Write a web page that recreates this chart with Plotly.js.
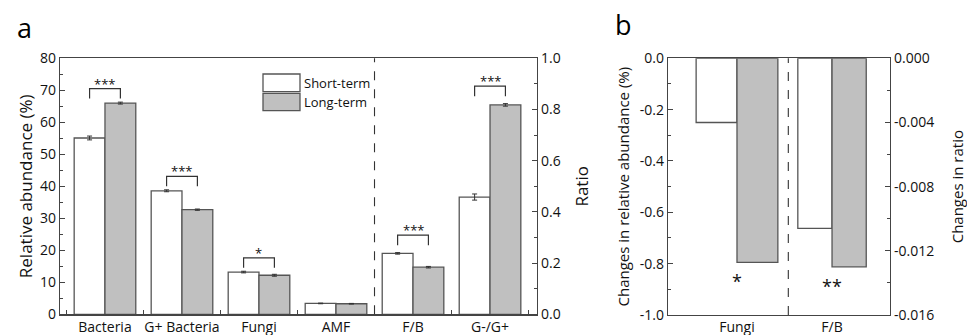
<!DOCTYPE html>
<html>
<head>
<meta charset="utf-8">
<script src="https://cdn.plot.ly/plotly-3.0.1.min.js"></script>
<style>html,body{margin:0;padding:0;background:#fff;} #chart{width:967px;height:335px;}</style>
</head>
<body>
<div id="chart"></div>
<script>
// ---------- DATA ----------
const abundCats = ['Bacteria', 'G+ Bacteria', 'Fungi', 'AMF'];
const ratioCats = ['F/B', 'G-/G+'];
const shortAbund = [55.1, 38.6, 13.2, 3.4];
const longAbund = [66.0, 32.7, 12.2, 3.3];
const shortAbundErr = [0.6, 0.3, 0.25, 0.1];
const longAbundErr = [0.3, 0.2, 0.3, 0.1];
const shortRatio = [0.238, 0.458];
const longRatio = [0.184, 0.818];
const shortRatioErr = [0.003, 0.012];
const longRatioErr = [0.003, 0.005];
const abundSig = ['***', '***', '*', ''];
const ratioSig = ['***', '***'];
const legendNames = ['Short-term', 'Long-term'];

const changeCats = ['Fungi', 'F/B'];
const shortChangeFungi = [-0.25];
const longChangeFungi = [-0.795];
const shortChangeFB = [-0.0106];
const longChangeFB = [-0.0130];
const changeSig = ['*', '**'];

// ---------- STYLE ----------
const FONT = 'Open Sans, Liberation Sans, Arial, sans-serif';
const TXT = '#111';
const AX = '#444';
const EDGE = '#555';
const GREY = '#c0c0c0';
const W = 967, H = 335;
const px = v => v / W, py = v => 1 - v / H;

const nAb = abundCats.length;
const abIdx = abundCats.map((_, i) => i);
const raIdx = ratioCats.map((_, i) => i + nAb);
const allCats = abundCats.concat(ratioCats);
const allIdx = allCats.map((_, i) => i);

function barTrace(x, y, err, fill, offset, width, xa, ya) {
  const t = {
    type: 'bar', x: x, y: y, xaxis: xa, yaxis: ya,
    width: width, offset: offset,
    marker: {color: fill, line: {color: EDGE, width: 1.3}},
    showlegend: false, hoverinfo: 'skip'
  };
  if (err) t.error_y = {type: 'data', array: err, visible: true, color: '#333', thickness: 1, width: 2.5};
  return t;
}

// brackets built from data
function bracket(xIdx, s, l, se, le, sig, pad, leg) {
  const xs = [], ys = [], ann = [];
  xIdx.forEach((xi, i) => {
    if (!sig[i]) return;
    const top = Math.max(s[i] + se[i], l[i] + le[i]) + pad;
    xs.push(xi - 0.2, xi - 0.2, xi + 0.2, xi + 0.2, null);
    ys.push(top - leg, top, top, top - leg, null);
    ann.push({x: xi, y: top, text: sig[i]});
  });
  return {xs, ys, ann};
}

const bA = bracket(abIdx, shortAbund, longAbund, shortAbundErr, longAbundErr, abundSig, 4.2, 3.1);
const bR = bracket(raIdx, shortRatio, longRatio, shortRatioErr, longRatioErr, ratioSig, 0.068, 0.039);

const data = [
  barTrace(abIdx, shortAbund, shortAbundErr, '#ffffff', -0.4, 0.4, 'x', 'y'),
  barTrace(abIdx, longAbund, longAbundErr, GREY, 0, 0.4, 'x', 'y'),
  barTrace(raIdx, shortRatio, shortRatioErr, '#ffffff', -0.4, 0.4, 'x', 'y2'),
  barTrace(raIdx, longRatio, longRatioErr, GREY, 0, 0.4, 'x', 'y2'),
  {type: 'scatter', mode: 'lines', x: bA.xs, y: bA.ys, xaxis: 'x', yaxis: 'y',
   line: {color: '#333', width: 1.2}, showlegend: false, hoverinfo: 'skip', connectgaps: false},
  {type: 'scatter', mode: 'lines', x: bR.xs, y: bR.ys, xaxis: 'x', yaxis: 'y2',
   line: {color: '#333', width: 1.2}, showlegend: false, hoverinfo: 'skip', connectgaps: false},
  barTrace([0], shortChangeFungi, null, '#ffffff', -0.43, 0.43, 'x2', 'y3'),
  barTrace([0], longChangeFungi, null, GREY, 0, 0.43, 'x2', 'y3'),
  barTrace([1], shortChangeFB, null, '#ffffff', -0.36, 0.36, 'x2', 'y4'),
  barTrace([1], longChangeFB, null, GREY, 0, 0.36, 'x2', 'y4')
];

const annotations = [];
bA.ann.forEach(a => annotations.push({xref: 'x', yref: 'y', x: a.x, y: a.y, text: a.text, showarrow: false,
  yanchor: 'bottom', yshift: -6, font: {family: FONT, size: 13, color: TXT}}));
bR.ann.forEach(a => annotations.push({xref: 'x', yref: 'y2', x: a.x, y: a.y, text: a.text, showarrow: false,
  yanchor: 'bottom', yshift: -6, font: {family: FONT, size: 13, color: TXT}}));
// panel b stars below the long-term bars
annotations.push({xref: 'x2', yref: 'y3', x: 0, y: longChangeFungi[0], text: changeSig[0], showarrow: false,
  yanchor: 'top', yshift: -5, font: {family: FONT, size: 18, color: TXT}});
annotations.push({xref: 'x2', yref: 'y4', x: 1, y: longChangeFB[0], text: changeSig[1], showarrow: false,
  yanchor: 'top', yshift: -5, font: {family: FONT, size: 18, color: TXT}});
// panel labels
annotations.push({xref: 'paper', yref: 'paper', x: px(15), y: py(27), text: 'a', showarrow: false,
  xanchor: 'left', yanchor: 'middle', font: {family: FONT, size: 27, color: '#000'}});
annotations.push({xref: 'paper', yref: 'paper', x: px(613), y: py(25), text: 'b', showarrow: false,
  xanchor: 'left', yanchor: 'middle', font: {family: FONT, size: 27, color: '#000'}});
// legend text
annotations.push({xref: 'paper', yref: 'paper', x: px(302), y: py(83), text: legendNames[0], showarrow: false,
  xanchor: 'left', yanchor: 'middle', font: {family: FONT, size: 13, color: TXT}});
annotations.push({xref: 'paper', yref: 'paper', x: px(302), y: py(102), text: legendNames[1], showarrow: false,
  xanchor: 'left', yanchor: 'middle', font: {family: FONT, size: 13, color: TXT}});

const shapes = [
  {type: 'line', xref: 'x', yref: 'y domain', x0: nAb - 0.5, x1: nAb - 0.5, y0: 0, y1: 1,
   line: {color: '#333', width: 1.1, dash: 'dash'}},
  {type: 'line', xref: 'x2', yref: 'y3 domain', x0: 0.54, x1: 0.54, y0: 0, y1: 1,
   line: {color: '#333', width: 1.1, dash: 'dash'}},
  {type: 'rect', xref: 'paper', yref: 'paper', x0: px(263), x1: px(300), y0: py(74), y1: py(91.7),
   fillcolor: '#ffffff', line: {color: EDGE, width: 1.3}},
  {type: 'rect', xref: 'paper', yref: 'paper', x0: px(263), x1: px(300), y0: py(93.3), y1: py(110.7),
   fillcolor: GREY, line: {color: EDGE, width: 1.3}}
];

const tickFont = {family: FONT, size: 14, color: TXT};
const baseAxis = {showgrid: false, zeroline: false, showline: true, linecolor: AX, linewidth: 1.3,
  tickfont: tickFont, tickcolor: AX, fixedrange: true};

const lTicks = [0, -0.2, -0.4, -0.6, -0.8, -1.0];
const rTicks = [0, -0.004, -0.008, -0.012, -0.016];

const layout = {
  width: W, height: H,
  margin: {l: 0, r: 0, t: 0, b: 0},
  paper_bgcolor: '#fff', plot_bgcolor: '#fff',
  showlegend: false, barmode: 'overlay',
  font: {family: FONT, color: TXT},
  xaxis: Object.assign({}, baseAxis, {
    domain: [px(60), px(537)], range: [-0.584, allCats.length - 0.39], anchor: 'y',
    tickmode: 'array', tickvals: allIdx, ticktext: allCats, ticks: '', mirror: true,
    minor: {tickmode: 'linear', tick0: 0.5, dtick: 1, ticks: 'inside', ticklen: 4, tickcolor: AX}
  }),
  yaxis: Object.assign({}, baseAxis, {
    domain: [1 - 314.3 / H, 1 - 58.3 / H], range: [0, 80], anchor: 'x',
    dtick: 10, ticks: 'inside', ticklen: 5,
    minor: {dtick: 5, ticks: 'inside', ticklen: 3, tickcolor: AX},
    title: {text: 'Relative abundance (%)', font: {family: FONT, size: 17, color: TXT}, standoff: 3}
  }),
  yaxis2: Object.assign({}, baseAxis, {
    overlaying: 'y', side: 'right', anchor: 'x', range: [0, 1],
    dtick: 0.2, tickformat: '.1f', ticks: 'inside', ticklen: 5,
    minor: {dtick: 0.1, ticks: 'inside', ticklen: 3, tickcolor: AX},
    title: {text: 'Ratio', font: {family: FONT, size: 17, color: TXT}, standoff: 16}
  }),
  xaxis2: Object.assign({}, baseAxis, {
    domain: [px(668), px(890)], range: [-0.726, 1.61], anchor: 'y3',
    tickmode: 'array', tickvals: changeCats.map((_, i) => i), ticktext: changeCats, ticks: '', mirror: true,
    ticklabelstandoff: -1
  }),
  yaxis3: Object.assign({}, baseAxis, {
    domain: [1 - 315 / H, 1 - 58.3 / H], range: [-1, 0], anchor: 'x2',
    tickmode: 'array', tickvals: lTicks, ticktext: lTicks.map(v => v.toFixed(1)),
    ticks: 'inside', ticklen: 5,
    minor: {tickmode: 'linear', tick0: 0, dtick: 0.1, ticks: 'inside', ticklen: 3, tickcolor: AX},
    title: {text: 'Changes in relative abundance (%)', font: {family: FONT, size: 15, color: TXT}, standoff: 6}
  }),
  yaxis4: Object.assign({}, baseAxis, {
    overlaying: 'y3', side: 'right', anchor: 'x2', range: [-0.016, 0],
    tickmode: 'array', tickvals: rTicks, ticktext: rTicks.map(v => v.toFixed(3)),
    ticks: 'inside', ticklen: 5,
    minor: {tickmode: 'linear', tick0: 0, dtick: 0.002, ticks: 'inside', ticklen: 3, tickcolor: AX},
    title: {text: 'Changes in ratio', font: {family: FONT, size: 15, color: TXT}, standoff: 19}
  }),
  annotations: annotations,
  shapes: shapes
};

Plotly.newPlot('chart', data, layout, {displayModeBar: false, staticPlot: true});
</script>
</body>
</html>
